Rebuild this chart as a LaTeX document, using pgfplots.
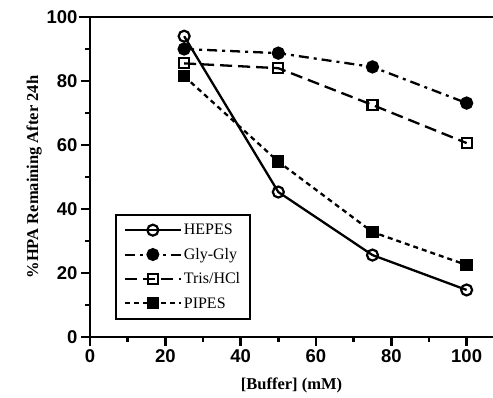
\documentclass[border=0pt]{standalone}
\usepackage{fontspec}
\setmainfont{Liberation Serif}
\newfontfamily\hel{Liberation Sans}
\usepackage{pgfplots}
\pgfplotsset{compat=1.18}
\begin{document}
\begin{tikzpicture}[x=1pt,y=1pt]
\path[use as bounding box] (-90,-61) rectangle (403,337);
\begin{axis}[
  at={(0,0)}, anchor=south west,
  scale only axis, width=403pt, height=320pt,
  xmin=0, xmax=107, ymin=0, ymax=100,
  axis x line*=bottom, axis y line*=left,
  axis line style={line width=2.8pt},
  xtick={0,20,40,60,80,100}, ytick={0,20,40,60,80,100},
  minor xtick={10,30,50,70,90}, minor ytick={10,30,50,70,90},
  tick align=outside,
  major tick length=9pt, minor tick length=5pt,
  every tick/.style={line width=2.6pt, black},
  tick label style={font=\hel\bfseries\fontsize{18.5}{18.5}\selectfont},
  /pgf/number format/assume math mode=true,
  xlabel={\bfseries [Buffer] (mM)},
  ylabel={\bfseries \%HPA Remaining After 24h},
  label style={font=\fontsize{16.5}{16.5}\selectfont},
  xlabel style={yshift=-8pt},
  ylabel style={yshift=-2pt},
  clip=false,
  legend style={at={(axis cs:6.6,38.4)}, anchor=north west, draw=black, line width=2pt,
    font=\fontsize{16}{16}\selectfont, inner xsep=8pt, inner ysep=7pt, row sep=8pt},
  legend cell align=left,
  legend image post style={line width=2pt},
  legend image code/.code={\draw[#1] (0pt,0pt) -- (28pt,0pt) -- (56pt,0pt); \draw[#1,solid] plot coordinates {(28pt,0pt)};},
]
\draw[line width=2.8pt] (axis cs:-3,100) -- (axis cs:107,100);
\addplot[black, line width=2.3pt, mark=o, mark size=5.5pt, mark options={solid, fill=white, line width=2.2pt}]
  coordinates {(25,94) (50,45.3) (75,25.6) (100,14.7)};
\addlegendentry{HEPES}
\addplot[black, line width=2.3pt, dash pattern=on 10pt off 5pt on 3pt off 5pt, mark=*, mark size=5.5pt, mark options={solid}]
  coordinates {(25,90) (50,88.7) (75,84.4) (100,73.1)};
\addlegendentry{Gly-Gly}
\addplot[black, line width=2.3pt, dash pattern=on 12pt off 6pt, mark=square, mark size=5pt, mark options={solid, fill=white, line width=2.2pt}]
  coordinates {(25,85.5) (50,84) (75,72.5) (100,60.6)};
\addlegendentry{Tris/HCl}
\addplot[black, line width=2.3pt, dash pattern=on 5pt off 4pt, mark=square*, mark size=5pt, mark options={solid}]
  coordinates {(25,81.5) (50,54.8) (75,32.8) (100,22.5)};
\addlegendentry{PIPES}
\end{axis}
\end{tikzpicture}
\end{document}
